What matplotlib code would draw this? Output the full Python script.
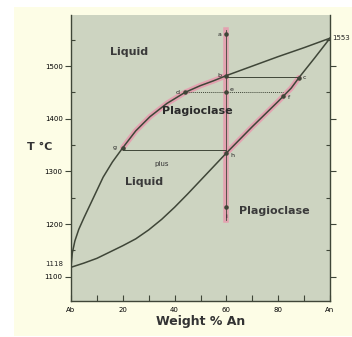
import matplotlib
matplotlib.use("Agg")
from matplotlib import pyplot as plt
from matplotlib.patches import Rectangle

# liquidus and solidus (wt% An, T in C)
liquidus_x = [0, 0.5, 1.5, 3, 5, 7.5, 10, 12.4, 16, 20, 25, 30.5, 37, 44, 50, 55, 60, 70, 80, 90, 100]
liquidus_t = [1118, 1145, 1168, 1190, 1212, 1238, 1264, 1289, 1318, 1345, 1377, 1404, 1429,
              1450, 1463, 1472, 1482, 1500, 1518, 1535, 1553]
solidus_x = [0, 5, 10, 15, 20, 25, 30, 35, 40, 45, 50, 55, 60, 65, 70, 75, 80, 85, 88, 94, 100]
solidus_t = [1118, 1126, 1135, 1147, 1159, 1172, 1189, 1209, 1232, 1257, 1283, 1309, 1335,
             1360, 1385, 1409, 1433, 1458, 1478, 1515, 1553]

bulk_x = 60
bulk_t_top = 1568
bulk_t_bottom = 1207

# tie lines: (x liquid, x solid, T)
tie_bc = (60, 88, 1480)
tie_df = (44, 82, 1450)
tie_gh = (20, 60, 1340)

point_names = ["a", "b", "c", "d", "e", "f", "g", "h", "i"]
point_x = [60, 60, 88, 44, 60, 82, 20, 60, 60]
point_t = [1560, 1482, 1478, 1450, 1450, 1443, 1345, 1335, 1232]

x_ticks = [0, 20, 40, 60, 80, 100]
x_labels = ["Ab", "20", "40", "60", "80", "An"]
y_ticks = [1100, 1200, 1300, 1400, 1500]

dark = "#3f4638"
pink = "#e79aae"

fig = plt.figure(figsize=(3.52, 3.37), dpi=100, facecolor="white")
fig.patches.append(Rectangle((14 / 352, 1 - 336 / 337), 338 / 352, 329 / 337,
                             transform=fig.transFigure, facecolor="#fdfde6",
                             edgecolor="none", zorder=-10))
ax = fig.add_axes([71 / 352, 1 - 301 / 337, 259 / 352, 286 / 337])
ax.set_zorder(1)
ax.set_facecolor("#cdd4c1")
ax.set_xlim(0, 100)
ax.set_ylim(1054, 1597)

# pink highlights of the crystallisation path
lx = [x for x in liquidus_x if 20 <= x <= 60]
lt = [t for x, t in zip(liquidus_x, liquidus_t) if 20 <= x <= 60]
ax.plot(lx, lt, color=pink, lw=4, alpha=0.85, solid_capstyle="round")
sx = [x for x in solidus_x if 60 <= x <= 88]
st = [t for x, t in zip(solidus_x, solidus_t) if 60 <= x <= 88]
ax.plot(sx, st, color=pink, lw=4, alpha=0.85, solid_capstyle="round")
ax.plot([bulk_x, bulk_x], [bulk_t_top, bulk_t_bottom], color=pink, lw=4, alpha=0.85)

ax.plot(liquidus_x, liquidus_t, color=dark, lw=1.1)
ax.plot(solidus_x, solidus_t, color=dark, lw=1.1)
ax.plot([bulk_x, bulk_x], [bulk_t_top, bulk_t_bottom], color=dark, lw=0.6)

ax.plot(tie_bc[:2], [tie_bc[2]] * 2, color=dark, lw=0.7)
ax.plot(tie_df[:2], [tie_df[2]] * 2, color=dark, lw=0.7, ls=(0, (1, 1)))
ax.plot(tie_gh[:2], [tie_gh[2]] * 2, color=dark, lw=0.7)

ax.scatter(point_x, point_t, s=5, color=dark, zorder=5)
offsets = {"a": (-5, 0), "b": (-5, 0), "c": (4, 0), "d": (-5, 0), "e": (4, 2),
           "f": (4, -1), "g": (-6, 0), "h": (4, -2), "i": (0, -7)}
for name, x, t in zip(point_names, point_x, point_t):
    ax.annotate(name, (x, t), xytext=offsets[name], textcoords="offset points",
                fontsize=4.5, color="#222", ha="center", va="center")

ax.text(15, 1527, "Liquid", fontsize=8, color="#3a3a3a", fontweight="bold", ha="left", va="center")
ax.text(35, 1415, "Plagioclase", fontsize=8, color="#2a2a2a", fontweight="bold", ha="left", va="center")
ax.text(35, 1315, "plus", fontsize=5, color="#333", ha="center", va="center")
ax.text(21, 1280, "Liquid", fontsize=8, color="#3a3a3a", fontweight="bold", ha="left", va="center")
ax.text(65, 1224, "Plagioclase", fontsize=8, color="#3a3a3a", fontweight="bold", ha="left", va="center")

ax.set_xticks(x_ticks)
ax.set_xticklabels(x_labels, fontsize=5)
ax.set_xticks(range(10, 100, 20), minor=True)
ax.set_yticks(y_ticks)
ax.set_yticklabels([str(v) for v in y_ticks], fontsize=5)
ax.set_yticks(range(1150, 1600, 100), minor=True)
ax.tick_params(axis="x", which="both", direction="in", length=4, width=0.8, color=dark, pad=4)
ax.tick_params(axis="y", which="major", direction="out", length=4, width=0.8, color=dark,
               right=True, pad=2)
ax.tick_params(axis="y", which="minor", direction="in", length=3, width=0.8, color=dark, right=True)
for side in ["top"]:
    ax.spines[side].set_visible(False)
for side in ["left", "bottom", "right"]:
    ax.spines[side].set_color(dark)
    ax.spines[side].set_linewidth(1)

ax.text(-3, 1118, "1118", fontsize=5, ha="right", va="bottom", color="#222")
ax.text(101, 1553, "1553", fontsize=5, ha="left", va="center", color="#222")

ax.set_xlabel("Weight % An", fontsize=9, fontweight="bold", color="#333", labelpad=2)
fig.text(40 / 352, 1 - 147 / 337, "T °C", fontsize=8, fontweight="bold", color="#333",
         ha="center", va="center")

fig.savefig("out.png", dpi=100, facecolor="white")
